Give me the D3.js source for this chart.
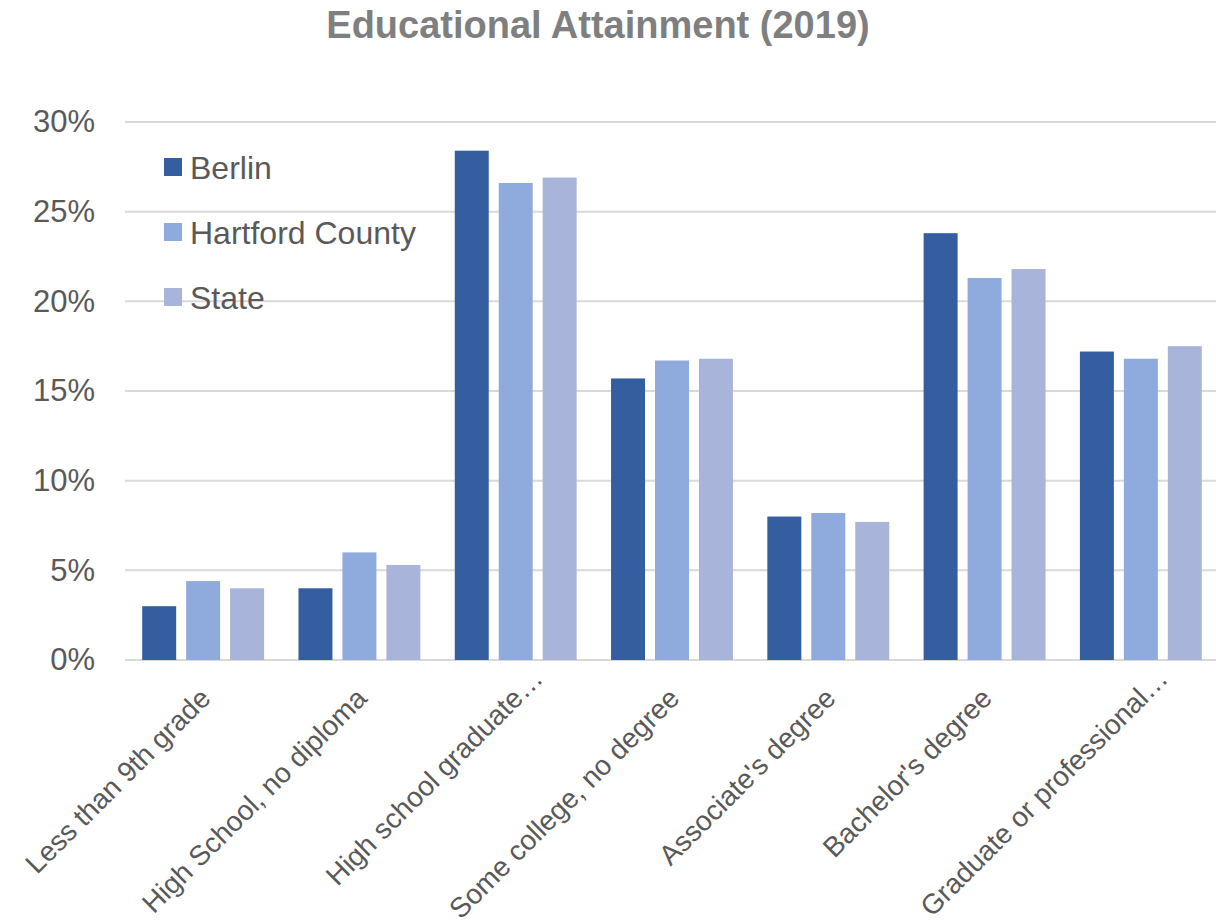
<!DOCTYPE html>
<html>
<head>
<meta charset="utf-8">
<script src="https://cdn.jsdelivr.net/npm/d3@7"></script>
<style>
  body { margin: 0; background: #fff; }
  svg { display: block; font-family: "Liberation Sans", Arial, Helvetica, sans-serif; }
</style>
</head>
<body>
<svg id="chart"></svg>
<script>
const categories = [
  "Less than 9th grade",
  "High School, no diploma",
  "High school graduate…",
  "Some college, no degree",
  "Associate's degree",
  "Bachelor's degree",
  "Graduate or professional…"
];
const seriesNames = ["Berlin", "Hartford County", "State"];
const berlin = [3.0, 4.0, 28.4, 15.7, 8.0, 23.8, 17.2];
const hartford = [4.4, 6.0, 26.6, 16.7, 8.2, 21.3, 16.8];
const state = [4.0, 5.3, 26.9, 16.8, 7.7, 21.8, 17.5];
const yTicks = [0, 5, 10, 15, 20, 25, 30];
const colors = ["#355EA0", "#8FAADC", "#A8B4DA"];

const width = 1216, height = 921;
const margin = { top: 122, right: -3, bottom: 261, left: 125 };

const svg = d3.select("#chart").attr("width", width).attr("height", height);

const series = [berlin, hartford, state];
const rows = categories.map((c, i) => ({
  cat: c,
  values: seriesNames.map((s, j) => ({ key: s, value: series[j][i] }))
}));

const x0 = d3.scaleBand()
  .domain(categories)
  .range([margin.left, width - margin.right])
  .paddingInner(0.22)
  .paddingOuter(0.11);

const x1 = d3.scaleBand()
  .domain(seriesNames)
  .range([0, x0.bandwidth()])
  .paddingInner(0.227);

const y = d3.scaleLinear()
  .domain([0, 30])
  .range([height - margin.bottom, margin.top]);

const color = d3.scaleOrdinal().domain(seriesNames).range(colors);

// title
svg.append("text")
  .attr("x", 598)
  .attr("y", 38)
  .attr("text-anchor", "middle")
  .attr("font-size", 38)
  .attr("font-weight", "bold")
  .attr("fill", "#7f7f7f")
  .text("Educational Attainment (2019)");

// gridlines
svg.append("g")
  .selectAll("line")
  .data(yTicks)
  .join("line")
  .attr("x1", margin.left)
  .attr("x2", width)
  .attr("y1", (d) => y(d))
  .attr("y2", (d) => y(d))
  .attr("stroke", "#d9d9d9")
  .attr("stroke-width", 2);

// y axis labels
const yAxis = svg.append("g")
  .attr("transform", `translate(${margin.left},0)`)
  .call(d3.axisLeft(y).tickValues(yTicks).tickFormat((d) => d + "%").tickSize(0).tickPadding(30));
yAxis.select(".domain").remove();
yAxis.selectAll("text")
  .attr("font-size", 31)
  .attr("fill", "#595959")
  .attr("font-family", null);

// bars
svg.append("g")
  .selectAll("g")
  .data(rows)
  .join("g")
  .attr("transform", (d) => `translate(${x0(d.cat)},0)`)
  .selectAll("rect")
  .data((d) => d.values)
  .join("rect")
  .attr("x", (d) => x1(d.key))
  .attr("y", (d) => y(d.value))
  .attr("width", x1.bandwidth())
  .attr("height", (d) => y(0) - y(d.value))
  .attr("fill", (d) => color(d.key));

// x labels (truncated ones keep their ellipsis past the anchor)
const xLabels = svg.append("g")
  .selectAll("g")
  .data(categories)
  .join("g")
  .attr("transform", (d) => `translate(${x0(d) + x0.bandwidth() / 2 + 9},700) rotate(-45)`)
  .attr("font-size", 28)
  .attr("fill", "#595959");
xLabels.append("text")
  .attr("text-anchor", "end")
  .text((d) => d.replace("…", ""));
xLabels.filter((d) => d.endsWith("…"))
  .append("text")
  .attr("text-anchor", "start")
  .text("…");

// legend
const legend = svg.append("g")
  .selectAll("g")
  .data(seriesNames)
  .join("g")
  .attr("transform", (d, i) => `translate(164,${158 + i * 65})`);
legend.append("rect")
  .attr("width", 18)
  .attr("height", 18)
  .attr("fill", (d) => color(d));
legend.append("text")
  .attr("x", 26)
  .attr("y", 9)
  .attr("dy", "0.36em")
  .attr("font-size", 32)
  .attr("fill", "#595959")
  .text((d) => d);
</script>
</body>
</html>
